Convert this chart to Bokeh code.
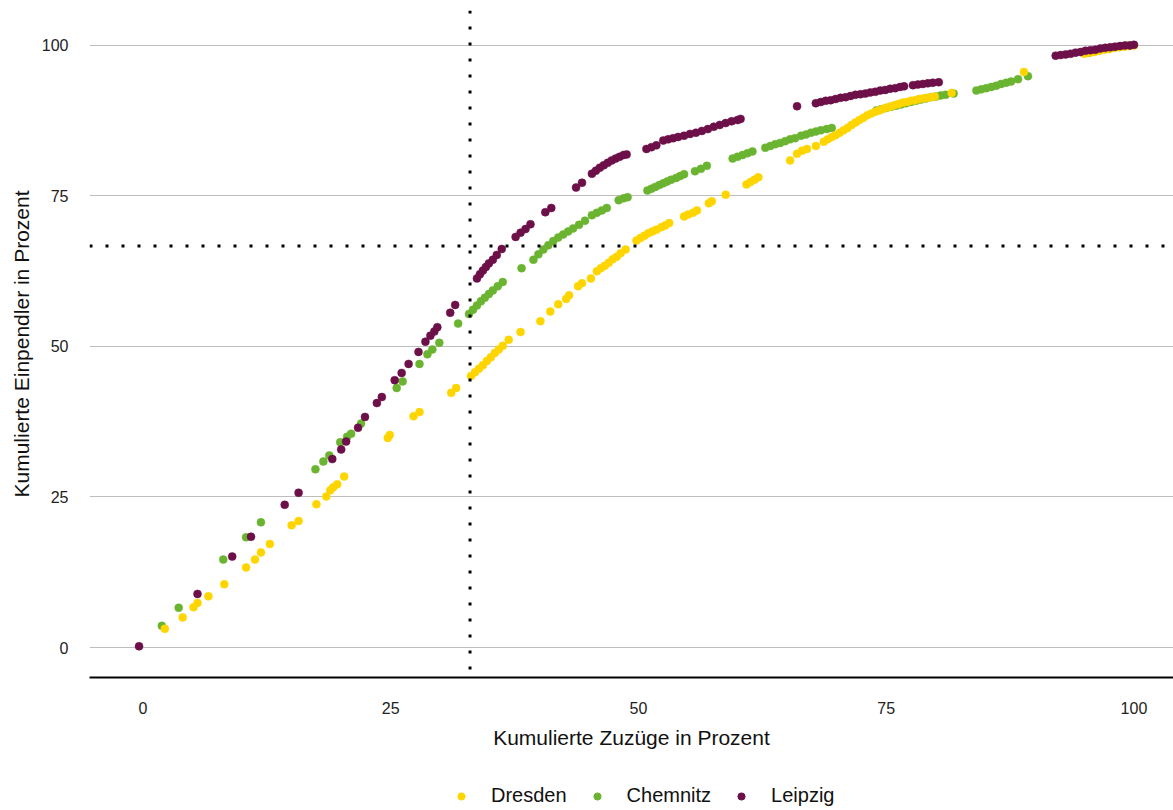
from bokeh.plotting import figure
from bokeh.layouts import column
from bokeh.models import Range1d, Span, Legend, LegendItem, FixedTicker
from bokeh.embed import file_html
from bokeh.resources import INLINE

# ---------------- data ----------------
dresden_x = [2.2, 4.0, 5.1, 5.5, 6.6, 8.2, 10.4, 11.3, 11.9, 12.8, 15.0, 15.7, 17.5, 18.5, 18.9, 19.2, 19.6, 20.3,
             24.7, 24.9, 27.3, 27.9, 31.1, 31.6,
             33.1, 33.5, 33.9, 34.3, 34.7, 35.1, 35.5, 35.9, 36.3, 36.9,
             38.1, 40.1, 41.1, 41.9, 42.7, 43.0, 43.9, 44.3, 45.2,
             45.8, 46.2, 46.6, 47.0, 47.4, 47.8, 48.2, 48.7,
             49.8, 50.2, 50.6, 51.0, 51.4, 51.8, 52.3, 52.7, 53.1,
             54.6, 55.0, 55.5, 55.9, 57.1, 57.4, 58.8, 60.9, 61.3, 61.7, 62.1,
             65.3, 66.0, 66.5, 67.0, 67.9,
             68.7, 69.1, 69.5, 69.9, 70.3, 70.7, 71.1, 71.5, 71.9, 72.3, 72.7, 73.1, 73.5, 73.9, 74.3, 74.7,
             75.1, 75.5, 75.9, 76.3, 76.7, 77.1, 77.5, 77.9, 78.3, 78.7, 79.1, 79.5, 79.9,
             81.6, 88.9,
             95.0, 95.5, 96.0, 96.5, 97.0, 97.5, 98.0, 98.5, 99.0, 99.5, 100.0]
dresden_y = [3.1, 5.0, 6.7, 7.4, 8.5, 10.5, 13.3, 14.6, 15.8, 17.2, 20.3, 21.0, 23.8, 25.1, 26.1, 26.6, 27.1, 28.4,
             34.8, 35.3, 38.4, 39.1, 42.3, 43.1,
             45.1, 45.7, 46.3, 46.9, 47.6, 48.2, 48.9, 49.5, 50.1, 51.1,
             52.4, 54.2, 55.8, 57.0, 57.9, 58.5, 60.0, 60.5, 61.3,
             62.5, 63.0, 63.4, 63.9, 64.5, 64.9, 65.5, 66.1,
             67.6, 68.0, 68.4, 68.8, 69.1, 69.4, 69.8, 70.1, 70.5,
             71.6, 71.9, 72.2, 72.6, 73.8, 74.1, 75.2, 76.9, 77.3, 77.7, 78.1,
             80.9, 82.0, 82.5, 82.8, 83.3,
             84.0, 84.4, 84.8, 85.1, 85.5, 85.9, 86.3, 86.8, 87.2, 87.6, 88.0, 88.4, 88.7, 89.0, 89.2, 89.5,
             89.7, 89.9, 90.1, 90.3, 90.5, 90.6, 90.8, 90.9, 91.1, 91.2, 91.3, 91.4, 91.5,
             92.1, 95.6,
             98.6, 98.8, 98.9, 99.1, 99.3, 99.4, 99.6, 99.7, 99.8, 99.9, 100.0]

chemnitz_x = [1.9, 3.6, 8.1, 10.4, 11.9, 17.4, 18.2, 18.8, 19.9, 20.6, 21.0, 22.0, 25.6, 26.2, 27.9, 28.7, 29.2, 29.9, 31.8,
              32.9, 33.3, 33.7, 34.1, 34.5, 34.9, 35.3, 35.8, 36.3,
              38.2, 39.4, 39.9, 40.4, 40.9, 41.4, 41.9, 42.4, 42.9, 43.4, 44.0, 44.6,
              45.3, 45.8, 46.3, 46.8, 48.0, 48.5, 48.9,
              50.9, 51.3, 51.7, 52.1, 52.5, 52.9, 53.3, 53.8, 54.2, 54.6,
              55.7, 56.3, 56.9,
              59.5, 60.0, 60.5, 61.0, 61.5,
              62.8, 63.3, 63.8, 64.3, 64.8, 65.3, 65.8, 66.4, 66.9, 67.4, 67.9, 68.4, 69.0, 69.5,
              74.0, 74.5, 75.0, 75.5, 76.0, 76.5, 77.0, 77.5, 78.0, 78.5, 79.0, 79.5, 80.0, 80.5, 81.0, 81.8,
              84.1, 84.6, 85.1, 85.6, 86.1, 86.6, 87.1, 87.6, 88.3, 89.3,
              95.5, 96.0, 96.5, 97.0, 97.5, 98.0, 98.5, 99.0, 99.5]
chemnitz_y = [3.6, 6.6, 14.6, 18.3, 20.8, 29.6, 30.9, 31.9, 34.1, 35.0, 35.5, 37.2, 43.1, 44.2, 47.1, 48.7, 49.5, 50.6, 53.8,
              55.4, 56.1, 56.8, 57.5, 58.1, 58.7, 59.3, 60.0, 60.7,
              63.0, 64.4, 65.3, 66.1, 66.8, 67.5, 68.1, 68.6, 69.1, 69.6, 70.2, 70.9,
              71.8, 72.2, 72.6, 73.0, 74.3, 74.6, 74.8,
              75.9, 76.2, 76.5, 76.8, 77.1, 77.4, 77.7, 78.0, 78.3, 78.6,
              79.1, 79.5, 80.0,
              81.2, 81.5, 81.8, 82.1, 82.4,
              83.0, 83.3, 83.6, 83.8, 84.1, 84.4, 84.6, 85.0, 85.2, 85.5, 85.7, 85.9, 86.1, 86.3,
              89.2, 89.4, 89.6, 89.8, 90.0, 90.2, 90.4, 90.6, 90.8, 91.0, 91.2, 91.4, 91.5, 91.7, 91.8, 92.0,
              92.5, 92.7, 92.9, 93.1, 93.3, 93.6, 93.8, 94.0, 94.4, 94.9,
              98.8, 99.0, 99.2, 99.4, 99.5, 99.7, 99.8, 99.9, 100.0]

leipzig_x = [-0.4, 5.5, 9.0, 10.9, 14.3, 15.7, 19.1, 20.0, 20.5, 21.7, 22.4, 23.6, 24.1, 25.4, 26.1, 26.8, 27.8,
             28.5, 29.0, 29.4, 29.7, 31.0, 31.5,
             33.7, 34.0, 34.3, 34.6, 34.9, 35.3, 35.7, 36.2,
             37.6, 38.1, 38.6, 39.1, 40.6, 41.2,
             43.7, 44.3,
             45.3, 45.7, 46.1, 46.5, 46.9, 47.3, 47.7, 48.1, 48.5, 48.8,
             50.8, 51.3, 51.8,
             52.5, 53.0, 53.5, 54.0, 54.6, 55.2, 55.8, 56.4, 57.0, 57.6, 58.2, 58.8, 59.4, 60.0, 60.3,
             66.0,
             67.9, 68.4, 68.9, 69.4, 69.9, 70.4, 70.9, 71.4, 71.9,
             72.4, 72.9, 73.4, 73.9, 74.4, 74.9, 75.4, 75.9, 76.4, 76.8,
             77.7, 78.2, 78.7, 79.2, 79.7, 80.3,
             92.1, 92.6, 93.1, 93.6, 94.1, 94.6, 95.1, 95.6, 96.1, 96.6, 97.1, 97.6, 98.1, 98.6, 99.1, 99.6, 100.0]
leipzig_y = [0.2, 8.9, 15.1, 18.4, 23.7, 25.7, 31.3, 32.9, 34.2, 36.5, 38.3, 40.6, 41.6, 44.4, 45.6, 47.1, 49.1,
             50.8, 51.8, 52.5, 53.2, 55.6, 56.9,
             61.3, 62.0, 62.6, 63.2, 63.8, 64.4, 65.2, 66.2,
             68.2, 68.9, 69.5, 70.3, 72.3, 73.0,
             76.4, 77.2,
             78.7, 79.2, 79.7, 80.1, 80.5, 80.9, 81.2, 81.5, 81.8, 81.9,
             82.8, 83.1, 83.4,
             84.2, 84.4, 84.6, 84.8, 85.0, 85.3, 85.5, 85.8, 86.1, 86.5, 86.8, 87.1, 87.4, 87.6, 87.8,
             89.9,
             90.4, 90.6, 90.8, 90.9, 91.1, 91.3, 91.4, 91.6, 91.8,
             91.9, 92.0, 92.2, 92.3, 92.5, 92.6, 92.8, 92.9, 93.1, 93.2,
             93.4, 93.5, 93.6, 93.7, 93.8, 93.9,
             98.3, 98.4, 98.5, 98.6, 98.8, 98.9, 99.1, 99.2, 99.3, 99.5, 99.6, 99.7, 99.8, 99.9, 100.0, 100.0, 100.1]

series_names = ["Dresden", "Chemnitz", "Leipzig"]
tick_values = [0, 25, 50, 75, 100]
ref_x = 33.0      # dotted vertical reference line
ref_y = 66.7      # dotted horizontal reference line

# ---------------- styles ----------------
COL_DRESDEN = "#FFD500"
COL_CHEMNITZ = "#6BB431"
COL_LEIPZIG = "#6D1049"
FONT = "Liberation Sans"

p = figure(width=1173, height=760, output_backend="svg", toolbar_location=None,
           x_range=Range1d(-5.40, 103.99), y_range=Range1d(-4.98, 105.8),
           min_border_left=89, min_border_right=0, min_border_top=10, min_border_bottom=83)
p.outline_line_color = None
p.background_fill_color = "white"
p.border_fill_color = "white"

p.xgrid.visible = False
p.ygrid.ticker = FixedTicker(ticks=tick_values)
p.ygrid.grid_line_color = "#BDBDBD"
p.ygrid.grid_line_width = 1

# x axis
xa = p.xaxis[0]
xa.ticker = FixedTicker(ticks=tick_values)
xa.axis_line_color = "black"
xa.axis_line_width = 2
xa.major_tick_line_color = None
xa.minor_tick_line_color = None
xa.major_tick_out = 0
xa.major_tick_in = 0
xa.minor_tick_out = 0
xa.minor_tick_in = 0
xa.major_label_standoff = 24
xa.major_label_text_font = FONT
xa.major_label_text_font_size = "16px"
xa.major_label_text_color = "#222222"
xa.axis_label = "Kumulierte Zuzüge in Prozent"
xa.axis_label_text_font = FONT
xa.axis_label_text_font_size = "21px"
xa.axis_label_text_font_style = "normal"
xa.axis_label_text_color = "#111111"
xa.axis_label_standoff = 9

# y axis
ya = p.yaxis[0]
ya.ticker = FixedTicker(ticks=tick_values)
ya.axis_line_color = None
ya.major_tick_line_color = None
ya.minor_tick_line_color = None
ya.major_tick_out = 0
ya.major_tick_in = 0
ya.minor_tick_out = 0
ya.minor_tick_in = 0
ya.major_label_standoff = 21
ya.major_label_text_font = FONT
ya.major_label_text_font_size = "16px"
ya.major_label_text_color = "#222222"
ya.axis_label = "Kumulierte Einpendler in Prozent"
ya.axis_label_text_font = FONT
ya.axis_label_text_font_size = "21px"
ya.axis_label_text_font_style = "normal"
ya.axis_label_text_color = "#111111"
ya.axis_label_standoff = 6

# points (Chemnitz underneath, then Dresden, Leipzig on top)
p.scatter(chemnitz_x, chemnitz_y, marker="circle", size=8,
          fill_color=COL_CHEMNITZ, line_color=COL_CHEMNITZ, line_width=0.5)
p.scatter(dresden_x, dresden_y, marker="circle", size=8,
          fill_color=COL_DRESDEN, line_color=COL_DRESDEN, line_width=0.5)
p.scatter(leipzig_x, leipzig_y, marker="circle", size=8,
          fill_color=COL_LEIPZIG, line_color=COL_LEIPZIG, line_width=0.5)

# dotted reference lines
p.add_layout(Span(location=ref_x, dimension="height", line_color="black",
                  line_width=3, line_dash="3 13"))
p.add_layout(Span(location=ref_y, dimension="width", line_color="black",
                  line_width=3, line_dash="3 13"))

# ---------------- legend strip below the chart ----------------
# (its frame is aligned with the main frame by the column layout; the series
#  are plotted again here only as legend keys, outside this strip's visible range)
lg = figure(width=1173, height=50, output_backend="svg", toolbar_location=None,
            x_range=Range1d(-1000, -999), y_range=Range1d(-1000, -999),
            min_border_left=89, min_border_right=0, min_border_top=0, min_border_bottom=0)
lg.axis.visible = False
lg.grid.visible = False
lg.outline_line_color = None
lg.border_fill_color = "white"
key_data = [(dresden_x, dresden_y, COL_DRESDEN),
            (chemnitz_x, chemnitz_y, COL_CHEMNITZ),
            (leipzig_x, leipzig_y, COL_LEIPZIG)]
keys = [lg.scatter(xs, ys, marker="circle", size=8, fill_color=c, line_color=c)
        for xs, ys, c in key_data]
legend = Legend(items=[LegendItem(label=n, renderers=[r]) for n, r in zip(series_names, keys)],
                orientation="horizontal", location=(362, 3),
                padding=0, margin=0, spacing=20, label_standoff=20,
                glyph_width=20, glyph_height=18,
                label_text_font=FONT, label_text_font_size="20px",
                label_text_color="#111111",
                border_line_color=None, background_fill_alpha=0)
lg.add_layout(legend, "center")

layout = column(p, lg, spacing=0)
open("out.html", "w").write(file_html(layout, INLINE))
